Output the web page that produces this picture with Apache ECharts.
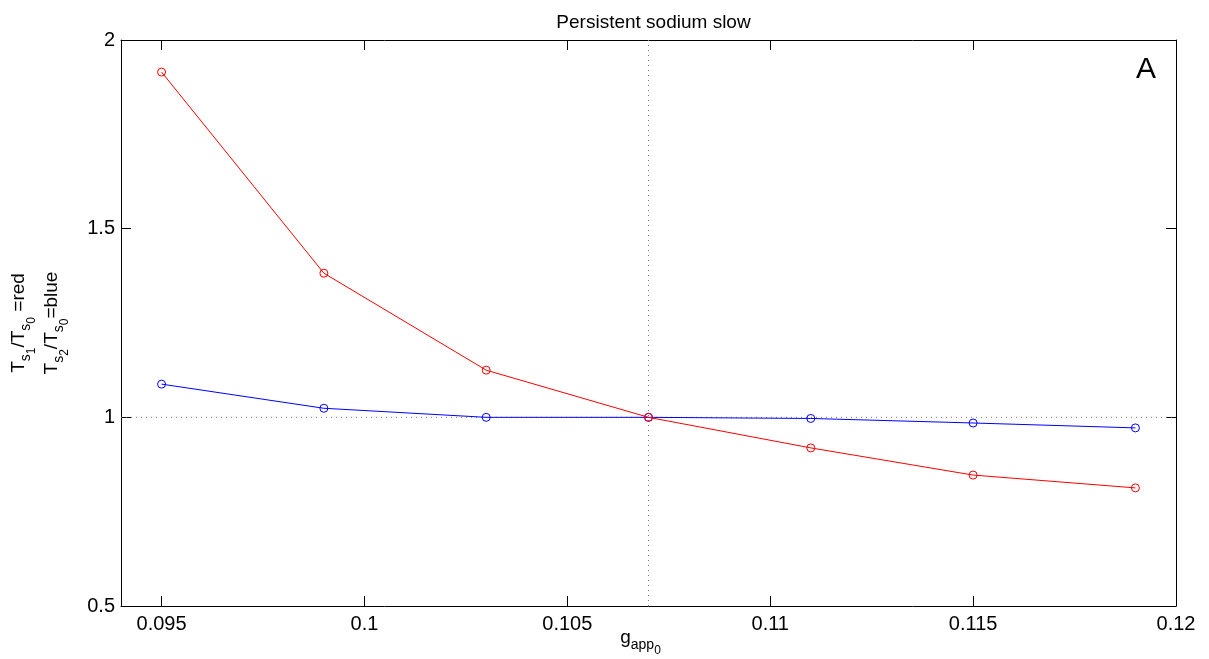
<!DOCTYPE html>
<html>
<head>
<meta charset="utf-8">
<title>Persistent sodium slow</title>
<script src="https://cdn.jsdelivr.net/npm/echarts@6/dist/echarts.min.js"></script>
<style>
  html, body { margin: 0; padding: 0; background: #fff; }
  #chart { width: 1209px; height: 659px; }
</style>
</head>
<body>
<div id="chart"></div>
<script>
// Applied conductance values (x) and the two period ratios (y)
const gApp = [0.095, 0.099, 0.103, 0.107, 0.111, 0.115, 0.119];
const ratioRed = [1.915, 1.382, 1.125, 1.0, 0.919, 0.847, 0.813];   // T_s1 / T_s0
const ratioBlue = [1.088, 1.024, 1.0, 1.0, 0.997, 0.985, 0.972];    // T_s2 / T_s0

const xTicks = [0.095, 0.1, 0.105, 0.11, 0.115, 0.12];
const xTickLabels = ['0.095', '0.1', '0.105', '0.11', '0.115', '0.12'];
const yTicks = [0.5, 1, 1.5, 2];
const yTickLabels = ['0.5', '1', '1.5', '2'];
const xRange = [0.094, 0.12];
const yRange = [0.5, 2];
const refX = 0.107;   // baseline conductance
const refY = 1;       // unit ratio

const FONT = '"Liberation Sans", Arial, Helvetica, sans-serif';
const chart = echarts.init(document.getElementById('chart'), null, { renderer: 'canvas' });

const grid = { left: 121, right: 33, top: 40, bottom: 53 };
const plotCenterX = grid.left + (1209 - grid.left - grid.right) / 2;

function lookup(ticks, labels, v) {
  const i = ticks.findIndex(t => Math.abs(t - v) < 1e-9);
  return i >= 0 ? labels[i] : '';
}

const axisLine = { show: true, onZero: false, lineStyle: { color: '#000', width: 1 } };
const tickStyle = { show: true, inside: true, length: 10, lineStyle: { color: '#000', width: 1 } };
const labelStyle = { color: '#000', fontFamily: FONT, fontSize: 20 };

const pairs = ys => gApp.map((x, i) => [x, ys[i]]);

const rich = {
  m: { fontFamily: FONT, fontSize: 19, color: '#000', verticalAlign: 'top', padding: [0, 0, 0, 0] },
  s: { fontFamily: FONT, fontSize: 14, color: '#000', verticalAlign: 'top', padding: [10, 0, 0, 0] },
  ss: { fontFamily: FONT, fontSize: 12, color: '#000', verticalAlign: 'top', padding: [17, 0, 0, 0] }
};

const dotted = { color: '#777', type: [1, 4], width: 1 };

function markerSeries(name, ys, color, z) {
  return {
    name: name, type: 'line', data: pairs(ys), z: z,
    symbol: 'circle', symbolSize: 8, showSymbol: true,
    lineStyle: { color: color, width: 1 },
    itemStyle: { color: 'rgba(0,0,0,0)', borderColor: color, borderWidth: 1 }
  };
}

chart.setOption({
  animation: false,
  backgroundColor: '#fff',
  title: {
    text: 'Persistent sodium slow',
    left: plotCenterX,
    textAlign: 'center',
    top: 8,
    textStyle: { fontFamily: FONT, fontSize: 19, fontWeight: 'normal', color: '#000' }
  },
  grid: grid,
  xAxis: [
    {
      type: 'value', min: xRange[0], max: xRange[1], position: 'bottom',
      axisLine: axisLine,
      axisTick: Object.assign({ customValues: xTicks }, tickStyle),
      axisLabel: Object.assign({ customValues: xTicks, margin: 8,
        formatter: v => lookup(xTicks, xTickLabels, v) }, labelStyle),
      splitLine: { show: false }
    },
    {
      type: 'value', min: xRange[0], max: xRange[1], position: 'top',
      axisLine: axisLine,
      axisTick: Object.assign({ customValues: xTicks }, tickStyle),
      axisLabel: { show: false },
      splitLine: { show: false }
    }
  ],
  yAxis: [
    {
      type: 'value', min: yRange[0], max: yRange[1], interval: 0.5, position: 'left',
      axisLine: axisLine,
      axisTick: tickStyle,
      axisLabel: Object.assign({ margin: 6,
        formatter: v => lookup(yTicks, yTickLabels, v) }, labelStyle),
      splitLine: { show: false }
    },
    {
      type: 'value', min: yRange[0], max: yRange[1], interval: 0.5, position: 'right',
      axisLine: axisLine,
      axisTick: tickStyle,
      axisLabel: { show: false },
      splitLine: { show: false }
    }
  ],
  series: [
    {
      // dotted vertical line at the baseline conductance
      type: 'line', z: 1, silent: true, symbol: 'none',
      data: [[refX, yRange[0]], [refX, yRange[1]]],
      lineStyle: dotted
    },
    {
      // dotted horizontal line at ratio 1
      type: 'line', z: 1, silent: true, symbol: 'none',
      data: [[xRange[0], refY], [xRange[1], refY]],
      lineStyle: dotted
    },
    markerSeries('blue', ratioBlue, '#0000ff', 3),
    markerSeries('red', ratioRed, '#ff0000', 4)
  ],
  graphic: [
    {
      type: 'text', x: 1136, y: 55, silent: true,
      style: { text: 'A', fontFamily: FONT, fontSize: 30, fill: '#000' }
    },
    {
      type: 'text', x: 9, y: 323, rotation: Math.PI / 2, silent: true,
      style: {
        text: '{m|T}{s|s}{ss|1}{m|/T}{s|s}{ss|0}{m| =red}',
        rich: rich, align: 'center', verticalAlign: 'top'
      }
    },
    {
      type: 'text', x: 42, y: 323, rotation: Math.PI / 2, silent: true,
      style: {
        text: '{m|T}{s|s}{ss|2}{m|/T}{s|s}{ss|0}{m|=blue}',
        rich: rich, align: 'center', verticalAlign: 'top'
      }
    },
    {
      type: 'text', x: plotCenterX - 8, y: 628, silent: true,
      style: {
        text: '{m|g}{s|app}{ss|0}',
        rich: rich, align: 'center', verticalAlign: 'top'
      }
    }
  ]
});
</script>
</body>
</html>
